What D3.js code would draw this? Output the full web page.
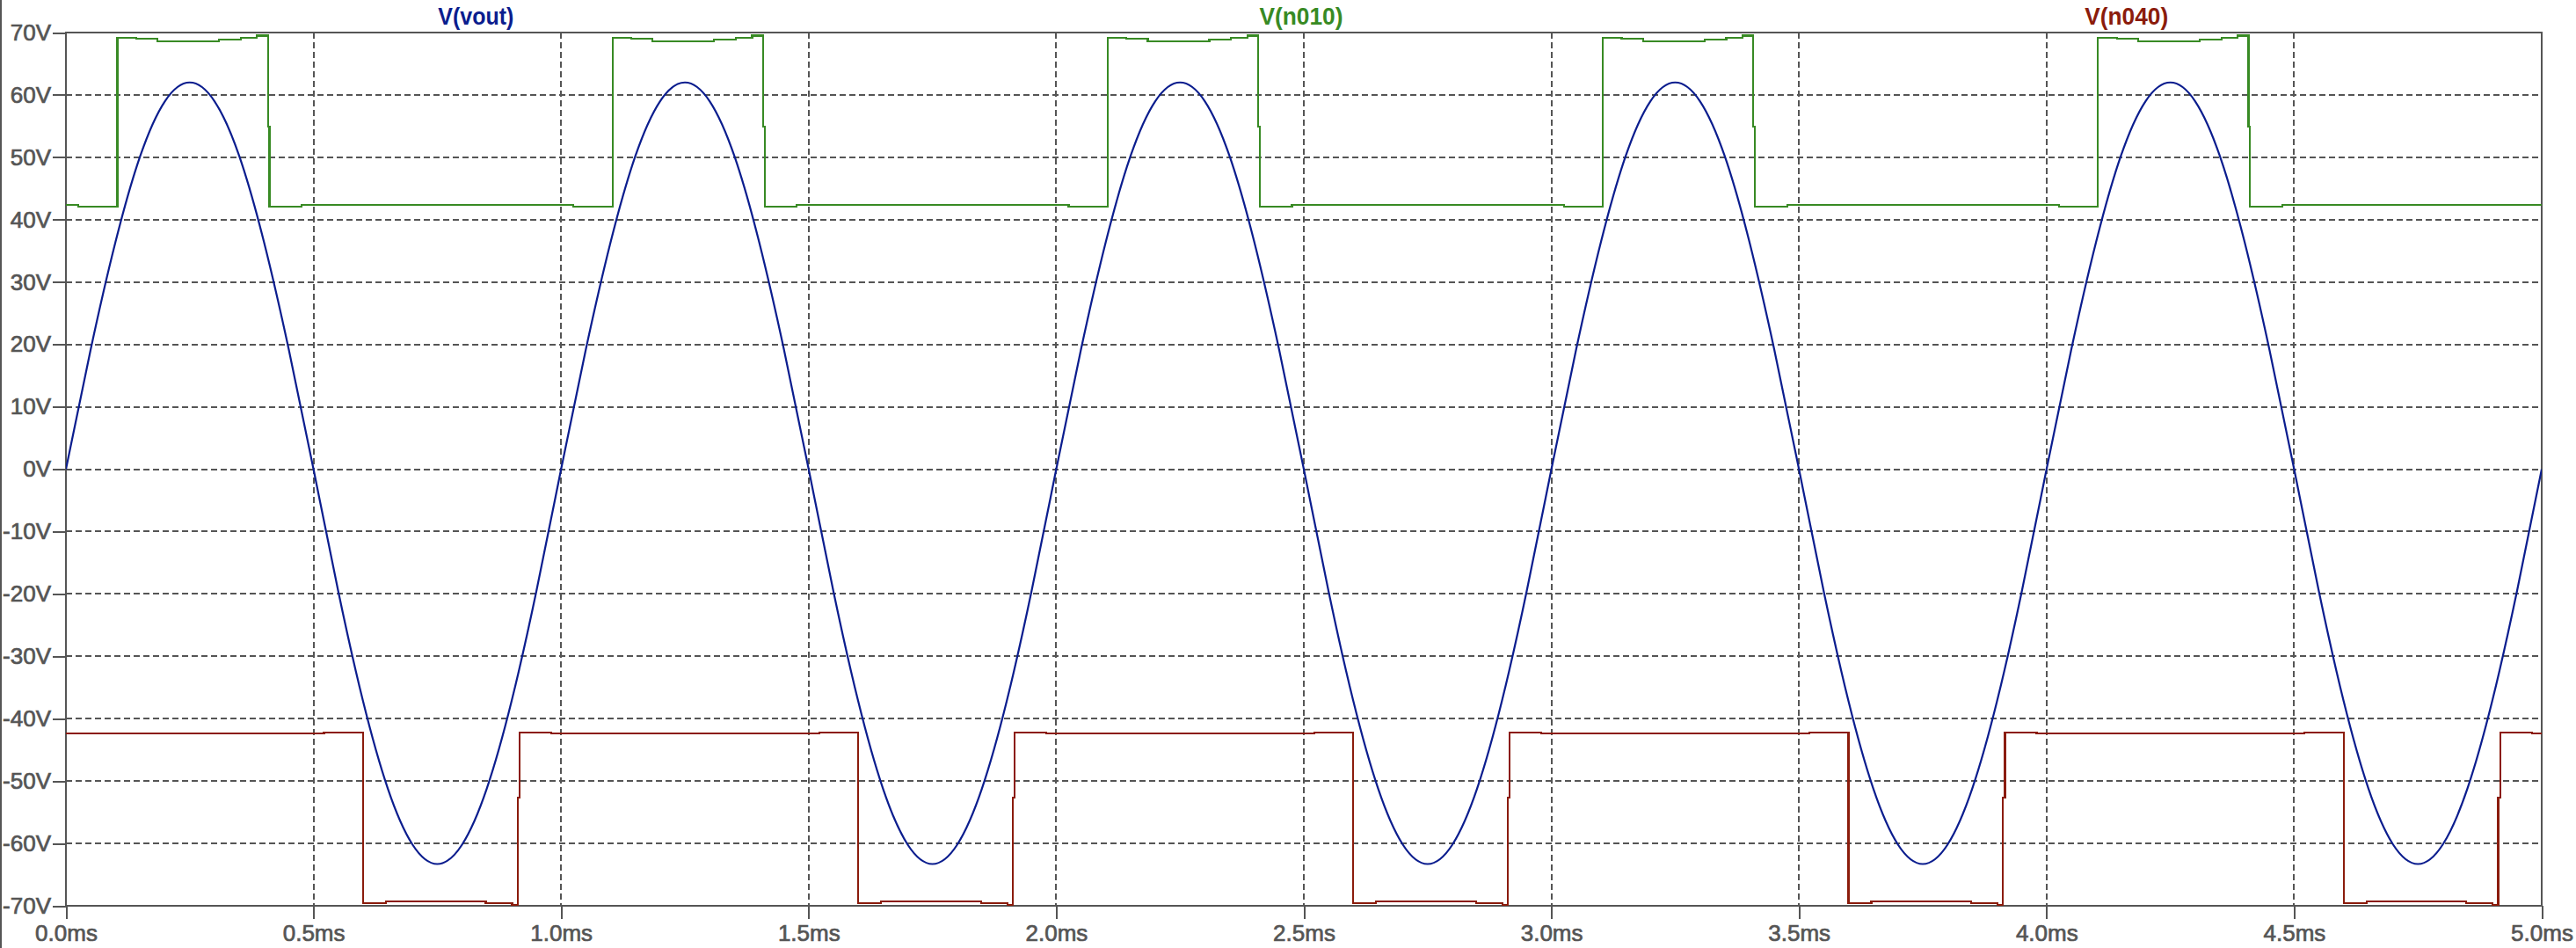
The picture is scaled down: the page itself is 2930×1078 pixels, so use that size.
<!DOCTYPE html>
<html><head><meta charset="utf-8">
<script src="https://cdn.jsdelivr.net/npm/d3@7"></script>
<style>html,body{margin:0;padding:0;background:#fff;overflow:hidden}</style>
</head><body><svg id="c" width="2930" height="1078"></svg>
<script>
// ---------- data ----------
const seriesNames = ["V(vout)", "V(n010)", "V(n040)"];
const seriesColors = ["#0b1d8e", "#388a24", "#8b1c0c"];
const xTicks = [0, 0.5, 1.0, 1.5, 2.0, 2.5, 3.0, 3.5, 4.0, 4.5, 5.0];
const xTickLabels = ["0.0ms","0.5ms","1.0ms","1.5ms","2.0ms","2.5ms","3.0ms","3.5ms","4.0ms","4.5ms","5.0ms"];
const yTicks = [70, 60, 50, 40, 30, 20, 10, 0, -10, -20, -30, -40, -50, -60, -70];
const yTickLabels = ["70V","60V","50V","40V","30V","20V","10V","0V","-10V","-20V","-30V","-40V","-50V","-60V","-70V"];

// V(vout): sampled every 0.05 ms from 0.0 ms to 5.0 ms
const voutStepMs = 0.05;
const voutValues = [
  0,19.2,36.4,50.2,59.0,62.0,59.0,50.2,36.4,19.2,0,-19.6,-37.2,-51.2,-60.2,-63.3,-60.2,-51.2,-37.2,-19.6,
  0,19.2,36.4,50.2,59.0,62.0,59.0,50.2,36.4,19.2,0,-19.6,-37.2,-51.2,-60.2,-63.3,-60.2,-51.2,-37.2,-19.6,
  0,19.2,36.4,50.2,59.0,62.0,59.0,50.2,36.4,19.2,0,-19.6,-37.2,-51.2,-60.2,-63.3,-60.2,-51.2,-37.2,-19.6,
  0,19.2,36.4,50.2,59.0,62.0,59.0,50.2,36.4,19.2,0,-19.6,-37.2,-51.2,-60.2,-63.3,-60.2,-51.2,-37.2,-19.6,
  0,19.2,36.4,50.2,59.0,62.0,59.0,50.2,36.4,19.2,0,-19.6,-37.2,-51.2,-60.2,-63.3,-60.2,-51.2,-37.2,-19.6,
  0
];

// V(n010): [time ms, volts] vertices
const n010Points = [
  [0,42.4],
  [0.025,42.4],[0.025,42.1],[0.104,42.1],[0.104,69.2],[0.142,69.2],[0.142,69.0],[0.185,69.0],[0.185,68.6],[0.309,68.6],[0.309,68.9],[0.353,68.9],[0.353,69.2],[0.386,69.2],[0.386,69.5],[0.408,69.5],[0.408,54.9],[0.411,54.9],[0.411,42.1],[0.476,42.1],[0.476,42.4],
  [1.025,42.4],[1.025,42.1],[1.104,42.1],[1.104,69.2],[1.142,69.2],[1.142,69.0],[1.185,69.0],[1.185,68.6],[1.309,68.6],[1.309,68.9],[1.353,68.9],[1.353,69.2],[1.386,69.2],[1.386,69.5],[1.408,69.5],[1.408,54.9],[1.411,54.9],[1.411,42.1],[1.476,42.1],[1.476,42.4],
  [2.025,42.4],[2.025,42.1],[2.104,42.1],[2.104,69.2],[2.142,69.2],[2.142,69.0],[2.185,69.0],[2.185,68.6],[2.309,68.6],[2.309,68.9],[2.353,68.9],[2.353,69.2],[2.386,69.2],[2.386,69.5],[2.408,69.5],[2.408,54.9],[2.411,54.9],[2.411,42.1],[2.476,42.1],[2.476,42.4],
  [3.025,42.4],[3.025,42.1],[3.104,42.1],[3.104,69.2],[3.142,69.2],[3.142,69.0],[3.185,69.0],[3.185,68.6],[3.309,68.6],[3.309,68.9],[3.353,68.9],[3.353,69.2],[3.386,69.2],[3.386,69.5],[3.408,69.5],[3.408,54.9],[3.411,54.9],[3.411,42.1],[3.476,42.1],[3.476,42.4],
  [4.025,42.4],[4.025,42.1],[4.104,42.1],[4.104,69.2],[4.142,69.2],[4.142,69.0],[4.185,69.0],[4.185,68.6],[4.309,68.6],[4.309,68.9],[4.353,68.9],[4.353,69.2],[4.386,69.2],[4.386,69.5],[4.408,69.5],[4.408,54.9],[4.411,54.9],[4.411,42.1],[4.476,42.1],[4.476,42.4],
  [5.0,42.4]
];

// V(n040): [time ms, volts] vertices
const n040Points = [
  [0,-42.4],
  [0.521,-42.4],[0.521,-42.2],[0.600,-42.2],[0.600,-69.6],[0.646,-69.6],[0.646,-69.3],[0.848,-69.3],[0.848,-69.6],[0.901,-69.6],[0.901,-69.9],[0.912,-69.9],[0.912,-52.7],[0.916,-52.7],[0.916,-42.2],[0.980,-42.2],[0.980,-42.4],
  [1.521,-42.4],[1.521,-42.2],[1.600,-42.2],[1.600,-69.6],[1.646,-69.6],[1.646,-69.3],[1.848,-69.3],[1.848,-69.6],[1.901,-69.6],[1.901,-69.9],[1.912,-69.9],[1.912,-52.7],[1.916,-52.7],[1.916,-42.2],[1.980,-42.2],[1.980,-42.4],
  [2.521,-42.4],[2.521,-42.2],[2.600,-42.2],[2.600,-69.6],[2.646,-69.6],[2.646,-69.3],[2.848,-69.3],[2.848,-69.6],[2.901,-69.6],[2.901,-69.9],[2.912,-69.9],[2.912,-52.7],[2.916,-52.7],[2.916,-42.2],[2.980,-42.2],[2.980,-42.4],
  [3.521,-42.4],[3.521,-42.2],[3.600,-42.2],[3.600,-69.6],[3.646,-69.6],[3.646,-69.3],[3.848,-69.3],[3.848,-69.6],[3.901,-69.6],[3.901,-69.9],[3.912,-69.9],[3.912,-52.7],[3.916,-52.7],[3.916,-42.2],[3.980,-42.2],[3.980,-42.4],
  [4.521,-42.4],[4.521,-42.2],[4.600,-42.2],[4.600,-69.6],[4.646,-69.6],[4.646,-69.3],[4.848,-69.3],[4.848,-69.6],[4.901,-69.6],[4.901,-69.9],[4.912,-69.9],[4.912,-52.7],[4.916,-52.7],[4.916,-42.2],[4.980,-42.2],[4.980,-42.4],
  [5.0,-42.4]
];

// ---------- drawing ----------
const W = 2930, H = 1078;
const plot = {left: 75, top: 37, right: 2891, bottom: 1030};
const gridColor = "#555555";
const svg = d3.select("#c");
svg.append("rect").attr("width", W).attr("height", H).attr("fill", "#fff");
// window border at left edge
svg.append("rect").attr("x", 0).attr("y", 0).attr("width", 2).attr("height", H).attr("fill", gridColor);

const x = d3.scaleLinear().domain([0, 5]).range([plot.left, plot.right]);
const y = d3.scaleLinear().domain([-70, 70]).range([plot.bottom, plot.top]);

// grid
const grid = svg.append("g").attr("stroke", gridColor).attr("stroke-width", 2)
  .attr("stroke-dasharray", "7,4").attr("shape-rendering", "crispEdges");
grid.selectAll("line.v").data(xTicks.slice(1, -1)).join("line")
  .attr("x1", d => x(d)).attr("x2", d => x(d))
  .attr("y1", plot.top).attr("y2", plot.bottom);
grid.selectAll("line.h").data(yTicks.slice(1, -1)).join("line")
  .attr("x1", plot.left).attr("x2", plot.right)
  .attr("y1", d => y(d)).attr("y2", d => y(d));

// axes
const fontFam = "'Liberation Sans', Arial, sans-serif";
const yAxis = svg.append("g").attr("transform", `translate(${plot.left},0)`)
  .call(d3.axisLeft(y).tickValues(yTicks).tickFormat((d, i) => yTickLabels[i]).tickSize(15).tickPadding(2));
const xAxis = svg.append("g").attr("transform", `translate(0,${plot.bottom})`)
  .call(d3.axisBottom(x).tickValues(xTicks).tickFormat((d, i) => xTickLabels[i]).tickSize(15).tickPadding(7));
[yAxis, xAxis].forEach(a => {
  a.select(".domain").remove();
  a.selectAll("line").attr("stroke", gridColor).attr("stroke-width", 2).attr("shape-rendering", "crispEdges");
  a.selectAll("text").attr("fill", gridColor).attr("font-size", 26).attr("font-family", fontFam)
    .attr("stroke", gridColor).attr("stroke-width", 0.7);
});

// frame
svg.append("rect").attr("x", plot.left).attr("y", plot.top)
  .attr("width", plot.right - plot.left).attr("height", plot.bottom - plot.top)
  .attr("fill", "none").attr("stroke", gridColor).attr("stroke-width", 2).attr("shape-rendering", "crispEdges");

// traces
const clip = svg.append("clipPath").attr("id", "clip").append("rect")
  .attr("x", plot.left).attr("y", plot.top - 2).attr("width", plot.right - plot.left).attr("height", plot.bottom - plot.top + 4);
const traces = svg.append("g").attr("clip-path", "url(#clip)").attr("fill", "none").attr("stroke-width", 2.2);

const voutData = voutValues.map((v, i) => [i * voutStepMs, v]);
traces.append("path").datum(voutData)
  .attr("stroke", seriesColors[0])
  .attr("d", d3.line().x(d => x(d[0])).y(d => y(d[1])).curve(d3.curveNatural));
traces.append("path").datum(n010Points)
  .attr("stroke", seriesColors[1]).attr("shape-rendering", "crispEdges")
  .attr("d", d3.line().x(d => x(d[0])).y(d => y(d[1])));
traces.append("path").datum(n040Points)
  .attr("stroke", seriesColors[2]).attr("shape-rendering", "crispEdges")
  .attr("d", d3.line().x(d => x(d[0])).y(d => y(d[1])));

// trace titles
const plotW = plot.right - plot.left;
svg.selectAll("text.title").data(seriesNames).join("text")
  .attr("class", "title")
  .attr("x", (d, i) => plot.left + plotW * (i + 0.5) / 3 - 3)
  .attr("y", 28)
  .attr("text-anchor", "middle")
  .attr("font-family", fontFam).attr("font-weight", "bold").attr("font-size", 28)
  .attr("textLength", (d, i) => i === 0 ? 86 : 95).attr("lengthAdjust", "spacingAndGlyphs")
  .attr("fill", (d, i) => seriesColors[i])
  .text(d => d);
</script>
</body></html>
